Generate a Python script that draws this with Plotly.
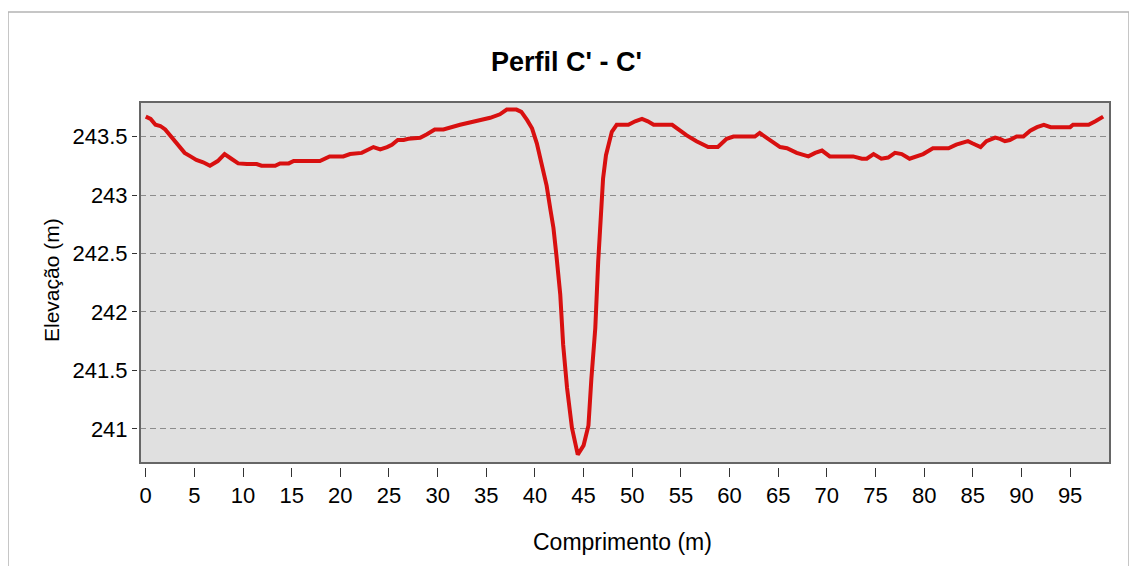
import plotly.graph_objects as go

distance_m = [0, 0.5, 1.0, 1.5, 2.0, 2.5, 3.0, 3.5, 4.0, 4.6, 5.2, 5.9, 6.6, 7.4, 8.1, 8.8, 9.5,
              10.4, 11.4, 11.9, 13.3, 13.8, 14.7, 15.2, 17.9, 18.9, 20.3, 21.0, 22.2, 23.4, 24.1,
              24.8, 25.3, 25.9, 26.5, 27.0, 28.2, 28.9, 29.7, 30.6, 31.3, 32.3, 33.3, 34.4, 35.4,
              36.4, 37.1, 38.1, 38.6, 39.2, 39.7, 40.2, 40.7, 41.2, 41.6, 41.9, 42.2, 42.6, 42.9,
              43.3, 43.8, 44.4, 45.0, 45.5, 45.8, 46.2, 46.5, 46.7, 47.0, 47.3, 47.6, 47.9, 48.4,
              49.6, 50.3, 51.0, 51.6, 52.2, 54.1, 54.7, 55.6, 56.6, 57.8, 58.8, 59.7, 60.4, 62.6,
              63.1, 63.6, 64.2, 65.2, 65.9, 66.9, 68.1, 68.8, 69.5, 70.3, 72.7, 73.6, 74.1, 74.8,
              75.6, 76.3, 77.0, 77.7, 78.5, 79.2, 79.9, 80.9, 82.5, 83.3, 84.0, 84.5, 85.0, 85.8,
              86.4, 87.3, 87.8, 88.3, 88.8, 89.5, 90.2, 90.9, 91.6, 92.3, 93.0, 95.0, 95.3, 96.9,
              97.6, 98.4]

elevation_m = [243.67, 243.65, 243.60, 243.59, 243.56, 243.51, 243.46, 243.40, 243.36, 243.33,
               243.30, 243.28, 243.25, 243.29, 243.35, 243.31, 243.27, 243.265, 243.265, 243.25,
               243.25, 243.27, 243.27, 243.29, 243.29, 243.33, 243.33, 243.35, 243.36, 243.41,
               243.39, 243.41, 243.43, 243.47, 243.47, 243.48, 243.49, 243.52, 243.56, 243.56,
               243.58, 243.60, 243.62, 243.64, 243.66, 243.69, 243.73, 243.73, 243.71, 243.64,
               243.57, 243.44, 243.27, 243.08, 242.87, 242.72, 242.49, 242.15, 241.72, 241.35,
               241.01, 240.78, 240.86, 241.03, 241.43, 241.86, 242.43, 242.72, 243.14, 243.34,
               243.46, 243.54, 243.60, 243.60, 243.63, 243.65, 243.63, 243.60, 243.60, 243.56,
               243.51, 243.46, 243.41, 243.41, 243.48, 243.50, 243.50, 243.53, 243.50, 243.46,
               243.41, 243.40, 243.36, 243.33, 243.36, 243.38, 243.33, 243.33, 243.31, 243.31,
               243.35, 243.31, 243.32, 243.36, 243.35, 243.31, 243.33, 243.35, 243.40, 243.40,
               243.43, 243.45, 243.46, 243.44, 243.41, 243.46, 243.49, 243.48, 243.46, 243.47,
               243.50, 243.50, 243.55, 243.58, 243.60, 243.58, 243.58, 243.60, 243.60, 243.63,
               243.67]

x_ticks = [0, 5, 10, 15, 20, 25, 30, 35, 40, 45, 50, 55, 60, 65, 70, 75, 80, 85, 90, 95]
y_ticks = [241, 241.5, 242, 242.5, 243, 243.5]
y_tick_labels = ["241", "241.5", "242", "242.5", "243", "243.5"]

title_text = "Perfil C' - C'"
x_title = "Comprimento (m)"
y_title = "Elevação (m)"

# the page adds an 8px body margin, so the figure is placed 8px in from the window edge
OFF = 8
W, H = 1137 - OFF, 566 - OFF
# target window-pixel positions of the plot box
PL, PR, PT, PB = 140, 1110, 102, 463
ML = (PL - 3) - OFF          # y ticks sit 3px left of the plot box
MR = W - (PR - OFF)
MT = PT - OFF
MB = H - (PB + 4 - OFF)      # x ticks sit 4px below the plot box
PW = W - ML - MR
PH = H - MT - MB


def px(xp):
    return (xp - OFF - ML) / PW


def py(yp):
    return (H - MB - (yp - OFF)) / PH


FONT = "Liberation Sans, Arial, sans-serif"

fig = go.Figure()
fig.add_trace(go.Scatter(
    x=distance_m, y=elevation_m, mode="lines",
    line=dict(color="#d81010", width=4),
    showlegend=False, hoverinfo="x+y",
))

fig.update_layout(
    width=W, height=H,
    margin=dict(l=ML, r=MR, t=MT, b=MB, pad=0),
    paper_bgcolor="white",
    plot_bgcolor="#e0e0e0",
    font=dict(family=FONT, color="black", size=22),
    xaxis=dict(
        domain=[px(PL), 1],
        range=[-0.59, 99.1],
        anchor="free", position=0,
        tickvals=x_ticks,
        ticks="outside", ticklen=9, tickwidth=1, tickcolor="#333333",
        showgrid=False, zeroline=False, showline=False,
        tickfont=dict(size=22, family=FONT),
    ),
    yaxis=dict(
        domain=[py(PB), 1],
        range=[240.709, 243.795],
        anchor="free", position=0,
        tickvals=y_ticks, ticktext=y_tick_labels,
        ticks="outside", ticklen=5, tickwidth=1, tickcolor="#333333",
        ticklabelstandoff=0,
        showgrid=True, gridcolor="#8c8c8c", gridwidth=1, griddash="6px,4px",
        zeroline=False, showline=False,
        tickfont=dict(size=22, family=FONT),
    ),
    shapes=[
        dict(type="rect", xref="paper", yref="paper",
             x0=px(8), x1=px(1129), y0=py(12), y1=py(580),
             line=dict(color="#b4b4b4", width=1.5), layer="below"),
        dict(type="rect", xref="x domain", yref="y domain",
             x0=0, x1=1, y0=0, y1=1,
             line=dict(color="#666666", width=2), layer="above"),
    ],
    annotations=[
        dict(text="<b>" + title_text + "</b>", xref="paper", yref="paper",
             x=px(566), y=py(62), xanchor="center", yanchor="middle",
             showarrow=False, font=dict(size=27, family=FONT, color="black")),
        dict(text=x_title, xref="paper", yref="paper",
             x=px(622), y=py(542), xanchor="center", yanchor="middle",
             showarrow=False, font=dict(size=23, family=FONT, color="black")),
        dict(text=y_title, xref="paper", yref="paper",
             x=px(51), y=py(280), xanchor="center", yanchor="middle",
             textangle=-90,
             showarrow=False, font=dict(size=21, family=FONT, color="black")),
    ],
)

fig.write_html("out.html")
